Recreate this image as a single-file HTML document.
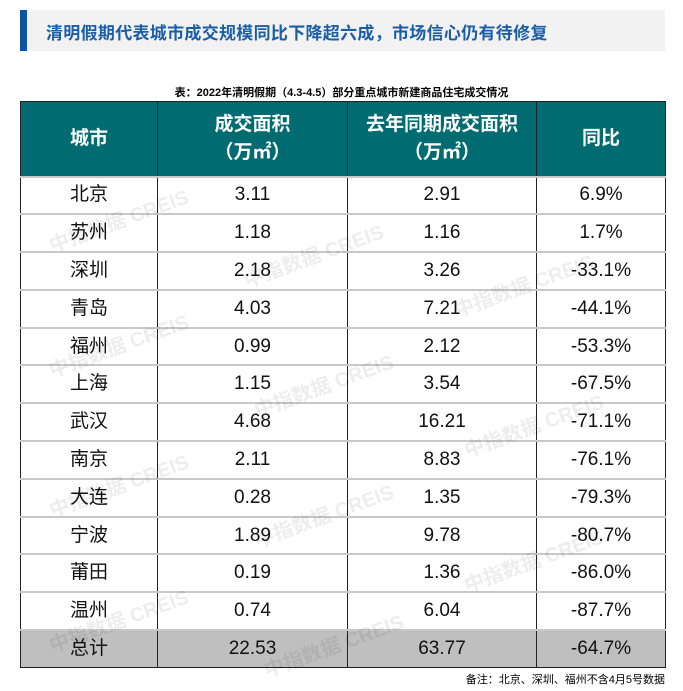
<!DOCTYPE html>
<html><head><meta charset="utf-8"><style>
body{margin:0;width:683px;height:691px;background:#fff;font-family:"Liberation Sans","Noto Sans CJK SC",sans-serif;position:relative;overflow:hidden}
.tb{position:absolute;left:20px;top:10px;width:645px;height:41px;background:#f2f2f2}
.tb i{position:absolute;left:0;top:0;width:7px;height:41px;background:#0b55a6}
.tb span{position:absolute;left:26px;top:9px;font-size:17px;color:#1a5ea8;font-weight:bold;letter-spacing:0.3px}
.cap{position:absolute;top:84px;left:0;width:683px;text-align:center;font-size:11px;font-weight:bold;color:#000}
table{position:absolute;left:20px;top:101px;border-collapse:collapse;width:646px;border:1.5px solid #222;table-layout:fixed}
td{text-align:center;font-size:19px;color:#111;border-left:1px solid #222;border-right:1px solid #222;border-top:2px solid #c8c8c8;padding:0;line-height:20px}
tr{height:37.8px}
tr.h{height:75px}
th{background:#006c72;color:#fff;font-size:19px;font-weight:bold;border:1px solid #222;line-height:28px;padding:0}
tr.t td{background:#bfbfbf}
.wm{position:absolute;color:rgba(0,0,0,0.07);font-size:20px;font-weight:bold;transform:rotate(-20deg);white-space:nowrap}
.note{position:absolute;right:18px;top:671px;font-size:11px;color:#000}
</style></head><body>
<div class="tb"><i></i><span>清明假期代表城市成交规模同比下降超六成，市场信心仍有待修复</span></div>
<div class="cap">表：2022年清明假期（4.3-4.5）部分重点城市新建商品住宅成交情况</div>
<table>
<colgroup><col style="width:137px"><col style="width:190px"><col style="width:189px"><col></colgroup>
<tr class="h"><th>城市</th><th>成交面积<br>（万㎡）</th><th>去年同期成交面积<br>（万㎡）</th><th>同比</th></tr>
<tr><td>北京</td><td>3.11</td><td>2.91</td><td>6.9%</td></tr>
<tr><td>苏州</td><td>1.18</td><td>1.16</td><td>1.7%</td></tr>
<tr><td>深圳</td><td>2.18</td><td>3.26</td><td>-33.1%</td></tr>
<tr><td>青岛</td><td>4.03</td><td>7.21</td><td>-44.1%</td></tr>
<tr><td>福州</td><td>0.99</td><td>2.12</td><td>-53.3%</td></tr>
<tr><td>上海</td><td>1.15</td><td>3.54</td><td>-67.5%</td></tr>
<tr><td>武汉</td><td>4.68</td><td>16.21</td><td>-71.1%</td></tr>
<tr><td>南京</td><td>2.11</td><td>8.83</td><td>-76.1%</td></tr>
<tr><td>大连</td><td>0.28</td><td>1.35</td><td>-79.3%</td></tr>
<tr><td>宁波</td><td>1.89</td><td>9.78</td><td>-80.7%</td></tr>
<tr><td>莆田</td><td>0.19</td><td>1.36</td><td>-86.0%</td></tr>
<tr><td>温州</td><td>0.74</td><td>6.04</td><td>-87.7%</td></tr>
<tr class="t"><td>总计</td><td>22.53</td><td>63.77</td><td>-64.7%</td></tr>
</table>
<div class="wm" style="left:45px;top:205px">中指数据 CREIS</div>
<div class="wm" style="left:240px;top:240px">中指数据 CREIS</div>
<div class="wm" style="left:450px;top:270px">中指数据 CREIS</div>
<div class="wm" style="left:45px;top:330px">中指数据 CREIS</div>
<div class="wm" style="left:250px;top:370px">中指数据 CREIS</div>
<div class="wm" style="left:460px;top:410px">中指数据 CREIS</div>
<div class="wm" style="left:45px;top:470px">中指数据 CREIS</div>
<div class="wm" style="left:250px;top:500px">中指数据 CREIS</div>
<div class="wm" style="left:460px;top:545px">中指数据 CREIS</div>
<div class="wm" style="left:45px;top:605px">中指数据 CREIS</div>
<div class="wm" style="left:260px;top:630px">中指数据 CREIS</div>
<div class="note">备注：北京、深圳、福州不含4月5号数据</div>
</body></html>
